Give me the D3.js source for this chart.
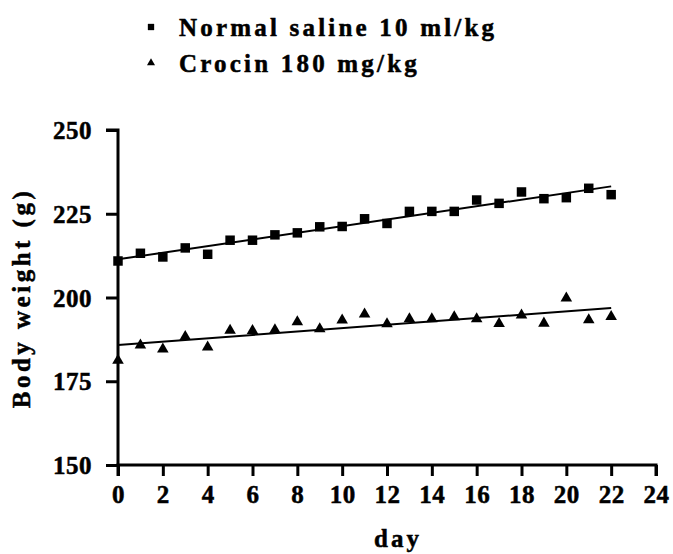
<!DOCTYPE html>
<html>
<head>
<meta charset="utf-8">
<script src="https://cdn.jsdelivr.net/npm/d3@7"></script>
<style>
  html, body { margin: 0; padding: 0; background: #fff; }
  svg { display: block; }
</style>
</head>
<body>
<svg id="chart" width="673" height="554"></svg>
<script>
const days = [0,1,2,3,4,5,6,7,8,9,10,11,12,13,14,15,16,17,18,19,20,21,22];
const salineWeight = [210.9,213.2,212.1,214.8,212.9,217.1,217.1,218.7,219.3,221.1,221.2,223.5,222.1,225.7,225.7,225.7,229.1,228.1,231.5,229.5,229.8,232.6,230.7];
const crocinWeight = [181.2,185.8,184.6,188.3,185.2,190.2,190.1,190.3,192.7,190.6,193.2,195.0,192.1,193.6,193.6,194.2,193.6,192.2,194.7,192.3,199.8,193.3,194.3];
const seriesNames = ["Normal saline 10 ml/kg", "Crocin 180 mg/kg"];
const xTicks = [0,2,4,6,8,10,12,14,16,18,20,22,24];
const yTicks = [150,175,200,225,250];
const xTitle = "day";
const yTitle = "Body weight (g)";

const FONT = '"Liberation Serif", "Times New Roman", Times, serif';
const svg = d3.select("#chart");
const x = d3.scaleLinear().domain([0, 24]).range([118, 656]);
const y = d3.scaleLinear().domain([150, 250]).range([465, 130]);

function fit(xs, ys) {
  const mx = d3.mean(xs), my = d3.mean(ys);
  let sxy = 0, sxx = 0;
  for (let i = 0; i < xs.length; i++) { sxy += (xs[i]-mx)*(ys[i]-my); sxx += (xs[i]-mx)**2; }
  const b = sxy / sxx;
  return { a: my - b*mx, b };
}
function styleText(sel, size, spacing) {
  sel.style("font-family", FONT).style("font-weight", "bold").style("font-size", size + "px")
     .style("letter-spacing", spacing + "px").style("fill", "#000")
     .style("stroke", "#000").style("stroke-width", "0.5px");
}

// Axes
const yAxis = d3.axisLeft(y).tickValues(yTicks).tickSize(12).tickPadding(14).tickFormat(d3.format("d"));
const xAxis = d3.axisBottom(x).tickValues(xTicks).tickSize(11).tickPadding(9).tickFormat(d3.format("d"));

const gy = svg.append("g").attr("transform", "translate(118,0)").call(yAxis);
const gx = svg.append("g").attr("transform", "translate(0,465)").call(xAxis);
[gx, gy].forEach(g => {
  g.select(".domain").attr("stroke", "#000").attr("stroke-width", 3);
  g.selectAll(".tick line").attr("stroke", "#000").attr("stroke-width", 3);
  styleText(g.selectAll(".tick text"), 25, 0.5);
});
gy.selectAll(".tick text").attr("dy", "0.34em");
gx.selectAll(".tick text").attr("dy", "0.72em");
gy.select(".domain").attr("d", `M-12,${y(250)}H0V${y(150)}`);
gx.select(".domain").attr("d", `M${x(0)},11V0H${x(24)}V11`);

// Regression lines
const line = d3.line().x(d => x(d[0])).y(d => y(d[1]));
[salineWeight, crocinWeight].forEach(vals => {
  const f = fit(days, vals);
  svg.append("path")
    .attr("d", line([[0, f.a], [22, f.a + f.b*22]]))
    .attr("fill", "none").attr("stroke", "#000").attr("stroke-width", 2);
});

// Markers
const sq = d3.symbol().type(d3.symbolSquare).size(90);
const tri = d3.symbol().type(d3.symbolTriangle).size(58);
svg.append("g").selectAll("path").data(days).join("path")
  .attr("d", sq).attr("fill", "#000")
  .attr("transform", (d, i) => `translate(${x(d)},${y(salineWeight[i])})`);
svg.append("g").selectAll("path").data(days).join("path")
  .attr("d", tri).attr("fill", "#000")
  .attr("transform", (d, i) => `translate(${x(d)},${y(crocinWeight[i])})`);

// Legend
const leg = svg.append("g");
const legSyms = [d3.symbol().type(d3.symbolSquare).size(40), d3.symbol().type(d3.symbolTriangle).size(28)];
seriesNames.forEach((name, i) => {
  const cy = 27 + i * 36;
  leg.append("path").attr("d", legSyms[i]).attr("fill", "#000")
    .attr("transform", `translate(151,${cy})`);
  styleText(leg.append("text").attr("x", 179).attr("y", cy + 9).text(name), 25, 3.2);
});

// Titles
styleText(svg.append("text").attr("x", 398).attr("y", 547).attr("text-anchor", "middle").text(xTitle), 25, 3);
styleText(svg.append("text").attr("transform", "translate(30,298) rotate(-90)").attr("text-anchor", "middle").text(yTitle), 25, 3.5);
</script>
</body>
</html>
